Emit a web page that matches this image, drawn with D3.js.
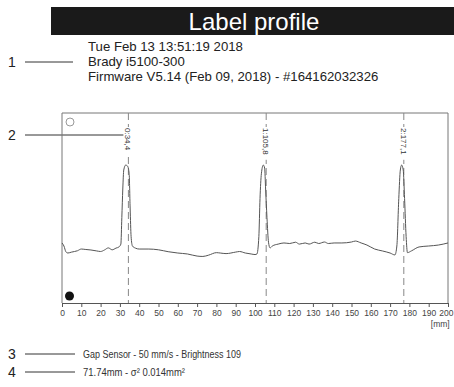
<!DOCTYPE html>
<html>
<head>
<meta charset="utf-8">
<script src="https://cdn.jsdelivr.net/npm/d3@7"></script>
<style>
  body { margin: 0; background: #fff; }
  svg { display: block; font-family: "Liberation Sans", Arial, sans-serif; }
</style>
</head>
<body>
<div id="chart"></div>
<script>
const width = 454,
  height = 387,
  plot = { left: 62, right: 448, top: 113, bottom: 303 };

const titleText = "Label profile";
const infoLines = [
  "Tue Feb 13 13:51:19 2018",
  "Brady i5100-300",
  "Firmware V5.14 (Feb 09, 2018) - #164162032326"
];
const footerLines = [
  "Gap Sensor - 50 mm/s - Brightness 109",
  "71.74mm - σ² 0.014mm²"
];

// profile trace: position in mm and sensor level (arbitrary 0-100)
const positions = [0, 1, 2, 3, 5, 8, 10, 12, 15, 18, 20, 22, 24, 26, 28, 29.5, 30.5, 31, 31.5, 32, 33, 34, 34.8, 35.3, 35.8, 36.5, 38, 40, 45, 50, 55, 60, 65, 70, 73, 76, 80, 82, 85, 90, 92, 95, 98, 100, 101, 102, 102.6, 103.3, 104.3, 105, 105.5, 106.2, 107, 107.8, 109, 112, 115, 118, 121, 123, 126, 128, 131, 133, 136, 138, 141, 145, 150, 152, 155, 158, 162, 166, 170, 172.5, 173.5, 174.5, 175.3, 176, 176.8, 177.5, 178.3, 179, 181, 185, 190, 195, 200];
const levels = [31.6, 30, 27, 26.3, 26.8, 27.5, 28.4, 28.2, 27.9, 27.4, 27.1, 27.9, 29, 28, 28.9, 29.5, 31, 45, 60, 70, 72.6, 72, 68, 50, 35, 30, 28.9, 28.4, 28.4, 28, 27, 26.3, 25.8, 24.7, 24.5, 25.2, 26.5, 26.3, 26, 26.8, 27.1, 26.3, 25.8, 25.5, 25.8, 35, 55, 68, 72.6, 71, 60, 45, 32, 29, 30, 31, 31.6, 31.3, 32, 31, 31.6, 31, 32, 31.3, 32.1, 31.3, 31.6, 31.6, 32.1, 32.6, 31.6, 30.5, 28.4, 27.4, 26.3, 25.3, 30, 55, 70, 72.6, 70, 55, 35, 26.5, 27.4, 29.5, 30, 30.5, 31.6];

const peakPositions = [34.4, 105.8, 177.1];
const peakLabels = ["0:34,4", "1:105,8", "2:177,1"];
const xTicks = [0, 10, 20, 30, 40, 50, 60, 70, 80, 90, 100, 110, 120, 130, 140, 150, 160, 170, 180, 190, 200];

const data = positions.map((p, i) => ({ x: p, y: levels[i] }));

const svg = d3.select("#chart")
  .append("svg")
  .attr("width", width)
  .attr("height", height);

const xScale = d3.scaleLinear().domain([0, 200]).range([plot.left, plot.right]);
const yScale = d3.scaleLinear().domain([0, 100]).range([plot.bottom, plot.top]);

// title bar
svg.append("rect")
  .attr("x", 51).attr("y", 7)
  .attr("width", width - 51).attr("height", 28)
  .attr("fill", "#1a1a1a");

svg.append("text")
  .attr("x", 254).attr("y", 30)
  .attr("text-anchor", "middle")
  .attr("font-size", 24)
  .attr("fill", "#fff")
  .text(titleText);

// info block
svg.selectAll(".info")
  .data(infoLines)
  .join("text")
  .attr("class", "info")
  .attr("x", 88)
  .attr("y", (d, i) => 51 + i * 15)
  .attr("font-size", 13.2)
  .attr("fill", "#222")
  .text(d => d);

// callouts
const callouts = [
  { n: "1", y: 62, x2: 73 },
  { n: "2", y: 135, x2: 126 },
  { n: "3", y: 354, x2: 75 },
  { n: "4", y: 372, x2: 75 }
];
svg.selectAll(".callout-num")
  .data(callouts)
  .join("text")
  .attr("class", "callout-num")
  .attr("x", 8)
  .attr("y", d => d.y + 5)
  .attr("font-size", 14)
  .attr("fill", "#222")
  .text(d => d.n);
svg.selectAll(".callout-line")
  .data(callouts)
  .join("line")
  .attr("class", "callout-line")
  .attr("x1", 25).attr("x2", d => d.x2)
  .attr("y1", d => d.y).attr("y2", d => d.y)
  .attr("stroke", "#333")
  .attr("stroke-width", 1);

// footer
svg.selectAll(".footer")
  .data(footerLines)
  .join("text")
  .attr("class", "footer")
  .attr("x", 83)
  .attr("y", (d, i) => 358 + i * 18)
  .attr("font-size", 11)
  .attr("textLength", (d, i) => i === 0 ? 158 : 102)
  .attr("lengthAdjust", "spacingAndGlyphs")
  .attr("fill", "#333")
  .text(d => d);

// frame
svg.append("path")
  .attr("d", `M${plot.left},${plot.bottom}V${plot.top}H${plot.right}V${plot.bottom}`)
  .attr("fill", "none")
  .attr("stroke", "#777")
  .attr("stroke-width", 1);

// x axis
const xAxis = d3.axisBottom(xScale)
  .tickValues(xTicks)
  .tickSize(4)
  .tickPadding(3)
  .tickSizeOuter(0);

const gx = svg.append("g")
  .attr("transform", `translate(0,${plot.bottom})`)
  .call(xAxis);
gx.select(".domain").attr("stroke", "#555");
gx.selectAll(".tick line").attr("stroke", "#555");
gx.selectAll(".tick text")
  .attr("font-size", 8.5)
  .attr("font-family", "'Liberation Sans', Arial, sans-serif")
  .attr("fill", "#444")
  .attr("dx", d => d === 200 ? -1 : 0)
  .attr("text-anchor", d => d === 200 ? "end" : "middle")
  .attr("x", d => d === 200 ? 6 : 0);

svg.append("text")
  .attr("x", xScale(196)).attr("y", 327)
  .attr("text-anchor", "middle")
  .attr("font-size", 8.5)
  .attr("fill", "#444")
  .text("[mm]");

// peak markers
svg.selectAll(".peak-line")
  .data(peakPositions)
  .join("line")
  .attr("class", "peak-line")
  .attr("x1", d => xScale(d)).attr("x2", d => xScale(d))
  .attr("y1", plot.top).attr("y2", plot.bottom)
  .attr("stroke", "#888")
  .attr("stroke-width", 1)
  .attr("stroke-dasharray", "7,4");

const peakLabelG = svg.selectAll(".peak-label")
  .data(peakPositions)
  .join("g")
  .attr("class", "peak-label")
  .attr("transform", d => `translate(${xScale(d)},128) rotate(90)`);
peakLabelG.append("rect")
  .attr("x", -1).attr("y", -5)
  .attr("width", (d, i) => peakLabels[i].length * 4.4 + 2)
  .attr("height", 10)
  .attr("fill", "#fff");
peakLabelG.append("text")
  .attr("x", 0).attr("y", 3)
  .attr("font-size", 8)
  .attr("fill", "#333")
  .text((d, i) => peakLabels[i]);

// trace
const line = d3.line()
  .x(d => xScale(d.x))
  .y(d => yScale(d.y))
  .curve(d3.curveMonotoneX);

svg.append("path")
  .datum(data)
  .attr("d", line)
  .attr("fill", "none")
  .attr("stroke", "#555")
  .attr("stroke-width", 1);

// sensor markers
svg.append("circle")
  .attr("cx", 70).attr("cy", 122).attr("r", 4)
  .attr("fill", "none").attr("stroke", "#999").attr("stroke-width", 1);
svg.append("circle")
  .attr("cx", 69.5).attr("cy", 296).attr("r", 4.5)
  .attr("fill", "#111");
</script>
</body>
</html>
